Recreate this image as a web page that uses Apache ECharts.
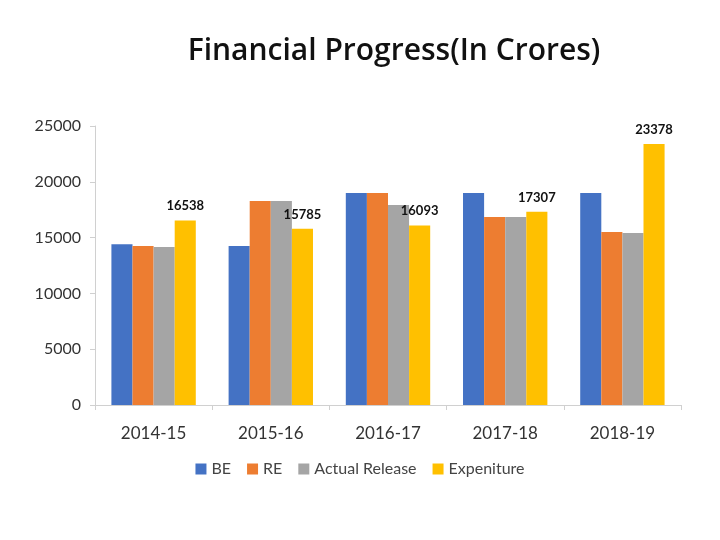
<!DOCTYPE html>
<html>
<head>
<meta charset="utf-8">
<script src="https://cdn.jsdelivr.net/npm/echarts@6/dist/echarts.min.js"></script>
<style>
  html, body { margin: 0; padding: 0; background: #fff; }
  #container { width: 720px; height: 540px; }
</style>
</head>
<body>
<div id="container"></div>
<script>
var years = ['2014-15', '2015-16', '2016-17', '2017-18', '2018-19'];
var be = [14400, 14250, 19000, 19000, 19000];
var re = [14250, 18280, 19000, 16850, 15500];
var actualRelease = [14160, 18280, 17920, 16850, 15410];
var expenditure = [16538, 15785, 16093, 17307, 23378];

var dom = document.getElementById('container');
var myChart = echarts.init(dom);

function bar(name, data, color, showLabel) {
    return {
        name: name,
        type: 'bar',
        data: data,
        barGap: '0%',
        barCategoryGap: '28%',
        itemStyle: { color: color },
        label: {
            show: showLabel,
            position: 'top',
            distance: 8,
            color: '#111',
            fontWeight: 'bold',
            fontSize: 13,
            fontFamily: 'Lato'
        }
    };
}

var option = {
    animation: false,
    title: {
        text: 'Financial Progress(In Crores)',
        left: 389,
        top: 31,
        textAlign: 'center',
        textStyle: { fontFamily: 'Open Sans', fontSize: 30, fontWeight: 600, color: '#111' }
    },
    legend: {
        bottom: 58,
        left: 'center',
        itemWidth: 11,
        itemHeight: 11,
        itemGap: 16,
        icon: 'rect',
        textStyle: { fontFamily: 'Lato', fontSize: 16, color: '#444' },
        data: ['BE', 'RE', 'Actual Release', 'Expeniture']
    },
    grid: { left: 95, right: 39, top: 126, bottom: 135 },
    xAxis: {
        type: 'category',
        data: years,
        axisLine: { lineStyle: { color: '#d0d0d0' } },
        axisTick: { show: true, length: 5, lineStyle: { color: '#d0d0d0' } },
        axisLabel: { fontFamily: 'Lato', fontSize: 17, color: '#333', margin: 20 }
    },
    yAxis: {
        type: 'value',
        min: 0,
        max: 25000,
        interval: 5000,
        axisLine: { show: true, lineStyle: { color: '#d0d0d0' } },
        axisTick: { show: true, length: 5, lineStyle: { color: '#d0d0d0' } },
        splitLine: { show: false },
        axisLabel: {
            fontFamily: 'Lato', fontSize: 16, color: '#333', margin: 14,
            formatter: function (v) { return String(v); }
        }
    },
    series: [
        bar('BE', be, '#4472c4', false),
        bar('RE', re, '#ed7d31', false),
        bar('Actual Release', actualRelease, '#a5a5a5', false),
        bar('Expeniture', expenditure, '#ffc000', true)
    ]
};

myChart.setOption(option);
</script>
</body>
</html>
